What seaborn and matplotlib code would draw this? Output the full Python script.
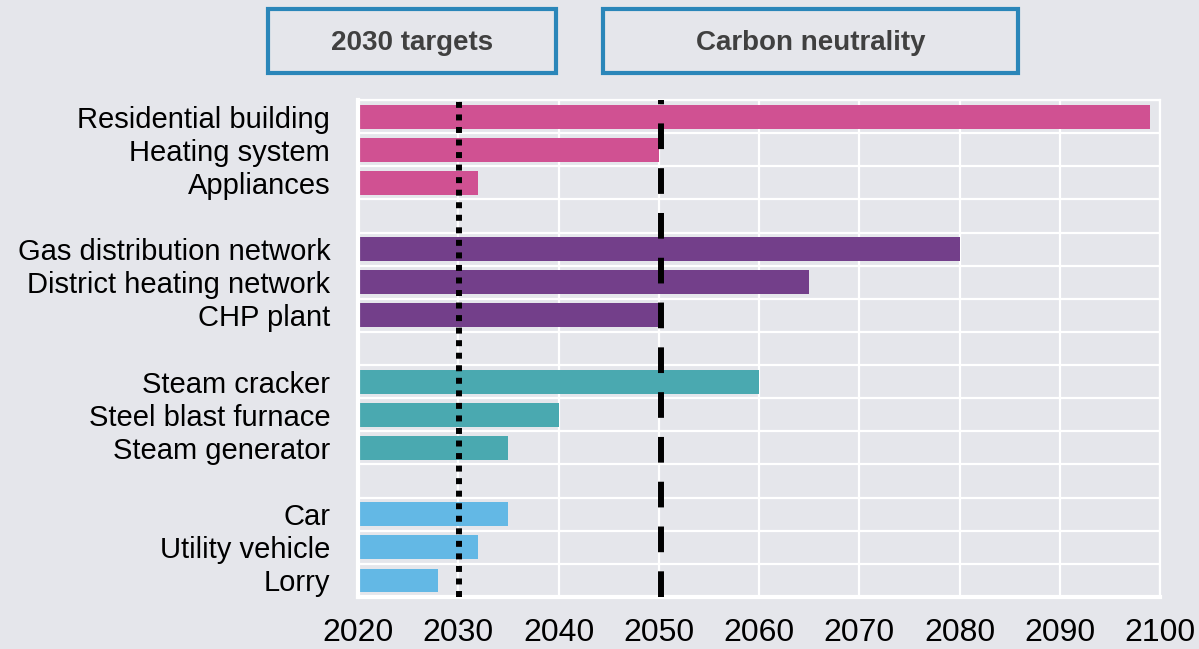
import pandas as pd
import seaborn as sns
import matplotlib.pyplot as plt
from matplotlib.patches import Rectangle

# data: year until which each asset type stays in use
labels = ['Residential building', 'Heating system', 'Appliances', ' ',
          'Gas distribution network', 'District heating network', 'CHP plant', '  ',
          'Steam cracker', 'Steel blast furnace', 'Steam generator', '   ',
          'Car', 'Utility vehicle', 'Lorry']
years = [2099, 2050, 2032, None,
         2080, 2065, 2050, None,
         2060, 2040, 2035, None,
         2035, 2032, 2028]
groups = ['Buildings', 'Buildings', 'Buildings', 'gap',
          'Networks', 'Networks', 'Networks', 'gap',
          'Industry', 'Industry', 'Industry', 'gap',
          'Transport', 'Transport', 'Transport']
group_colors = {'Buildings': '#d05192', 'Networks': '#733f8a',
                'Industry': '#4aa9b0', 'Transport': '#63b8e5', 'gap': '#ffffff'}
target_year = 2030
neutral_year = 2050
xticks = list(range(2020, 2101, 10))

df = pd.DataFrame({'label': labels, 'year': years, 'group': groups})
bars = df.dropna()

bg = '#e5e6eb'
sns.set_theme(style='darkgrid', rc={'axes.facecolor': bg, 'figure.facecolor': bg})
plt.rcParams['font.family'] = ['Liberation Sans', 'DejaVu Sans']

fig = plt.figure(figsize=(11.99, 6.49), dpi=100)
ax = fig.add_axes([0.2986, 0.0801, 0.6689, 0.7658])

sns.barplot(data=bars, x='year', y='label', hue='group', order=labels,
            palette=group_colors, dodge=False, width=0.72, legend=False,
            saturation=1, linewidth=0, ax=ax)

ax.set_xlim(2020, 2100)
ax.set_ylim(len(labels) - 0.5, -0.5)
ax.set_xticks(xticks)
ax.set_xticklabels([str(t) for t in xticks])
ax.set_yticks(range(len(labels)), minor=False)
ax.set_yticks([i - 0.5 for i in range(len(labels) + 1)], minor=True)
ax.grid(False)
ax.grid(True, axis='x', which='major', color='white', lw=1.6)
ax.grid(True, axis='y', which='minor', color='white', lw=1.6)
ax.tick_params(axis='both', which='both', length=0)
ax.tick_params(axis='x', labelsize=23, pad=15, colors='black')
ax.tick_params(axis='y', labelsize=21, pad=20, colors='black')
ax.set_xlabel('')
ax.set_ylabel('')
for side, sp in ax.spines.items():
    sp.set_visible(True)
    sp.set_color('white')
    sp.set_linewidth(3 if side in ('left', 'bottom') else 1.6)

ax.axvline(target_year + 0.1, color='black', lw=4.3, dashes=(1, 1.1),
           dash_capstyle='butt', zorder=5)
ax.axvline(neutral_year + 0.2, color='black', lw=4.3, dashes=(4.3, 3.2),
           dash_capstyle='butt', zorder=5)

# header boxes
for x0, w, txt in [(268, 288, '2030 targets'), (603, 415, 'Carbon neutrality')]:
    fig.patches.append(Rectangle((x0 / 1199, 1 - 73 / 649), w / 1199, 64 / 649,
                                 transform=fig.transFigure, facecolor=bg,
                                 edgecolor='#2a86b9', lw=3))
    fig.text((x0 + w / 2) / 1199, 1 - 43 / 649, txt, ha='center', va='center',
             fontsize=20, fontweight='bold', color='#404040')

fig.savefig('out.png', dpi=100)
